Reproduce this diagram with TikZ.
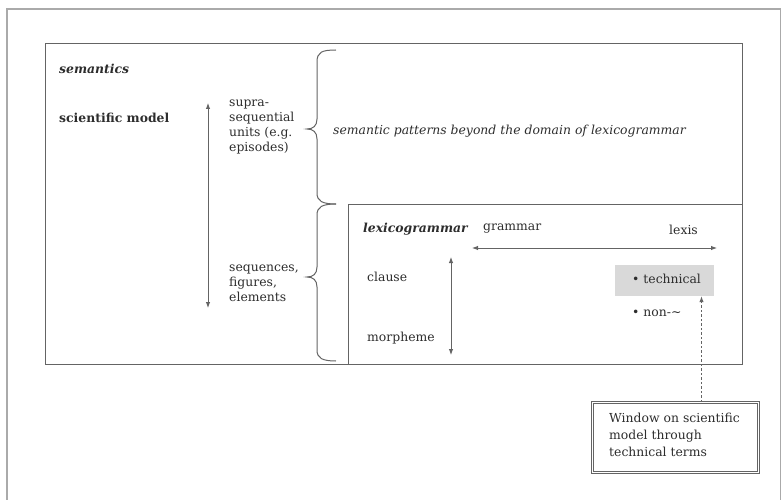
\documentclass[tikz,border=0pt]{standalone}
\usepackage{fontspec}
\setmainfont{DejaVu Serif}
\usetikzlibrary{arrows.meta}
\definecolor{ink}{RGB}{45,45,45}
\definecolor{rule}{RGB}{100,100,100}
\definecolor{frame}{RGB}{170,170,170}
\definecolor{shade}{RGB}{217,217,217}
\newcommand{\bodysize}{\fontsize{12.4}{14.8}\selectfont}
\tikzset{
  txt/.style={anchor=west,inner sep=0pt,text=ink,font=\bodysize},
  blk/.style={txt,align=left},
  box/.style={draw=rule,line width=1pt},
  tip/.tip={Latex[length=6pt,width=4.5pt]},
  arr/.style={draw=rule,line width=0.9pt,tip-tip},
  brc/.style={draw=rule,line width=1pt},
}
\begin{document}
\begin{tikzpicture}[x=1pt,y=-1pt]
\useasboundingbox (0,0) rectangle (782,500);
\begin{scope}
\clip (0,0) rectangle (782,500);
% surrounding frame
\draw[frame,line width=1.4pt] (7,9) rectangle (780.5,520);
\end{scope}

% semantics box and the lexicogrammar box inside it
\draw[box] (45,44) rectangle (742,364);
\draw[box] (742,204) -- (348,204) -- (348,364);

% braces
\draw[brc] (336,50) .. controls (322,50) and (317,52) .. (317,62) -- (317,119)
  .. controls (317,126) and (313,129) .. (307,129)
  .. controls (313,129) and (317,132) .. (317,139) -- (317,193)
  .. controls (317,201) and (322,204) .. (336,204);
\draw[brc] (336,204) .. controls (322,204) and (317,207) .. (317,215) -- (317,267)
  .. controls (317,274) and (313,277) .. (307,277)
  .. controls (313,277) and (317,280) .. (317,287) -- (317,350)
  .. controls (317,358) and (322,361) .. (336,361);

% semantics labels
\node[txt,font=\bodysize\bfseries\itshape] (sem) at (59,69) {semantics};
\node[txt,font=\bodysize\bfseries] (sci) at (59,118) {scientific model};
\coordinate (semtop) at (208,103);
\coordinate (sembot) at (208,308);
\draw[arr] (semtop) -- (sembot);
\node[blk] (supra) at (229,127) {supra-\\sequential\\units (e.g.\\episodes)};
\node[blk] (seq) at (229,283) {sequences,\\figures,\\elements};
\node[txt,font=\bodysize\itshape] (pat) at (333,131) {semantic patterns beyond the domain of lexicogrammar};

% lexicogrammar labels
\node[txt,font=\bodysize\bfseries\itshape] (lex) at (363,229) {lexicogrammar};
\node[txt] (gram) at (483,229) {grammar};
\node[txt] (lexis) at (669,230) {lexis};
\coordinate (hl) at (472,248);
\coordinate (hr) at (717,248);
\draw[arr] (hl) -- (hr);
\node[txt] (clause) at (367,277) {clause};
\node[txt] (morph) at (367,338) {morpheme};
\coordinate (vt) at (451,257);
\coordinate (vb) at (451,355);
\draw[arr] (vt) -- (vb);

% technical / non-technical lexis
\node[fill=shade,minimum width=99pt,minimum height=31pt,inner sep=0pt] (tech) at (664.5,280.5) {};
\node[txt] (techtxt) at (632,279) {• technical};
\node[txt] (non) at (632,313) {• non-\textasciitilde};

% window box
\node[draw=rule,double=white,double distance=1.8pt,line width=0.8pt,
      minimum width=166pt,minimum height=70pt,inner sep=0pt] (win) at (675.5,437.5) {};
\node[blk,font=\fontsize{12.4}{17}\selectfont] (wintxt) at (609,435) {Window on scientific\\model through\\technical terms};
\coordinate (dash) at (701.5,0);
\draw[draw=rule,line width=0.9pt,dash pattern=on 2.5pt off 2pt,-tip]
  (win.north -| dash) -- (tech.south -| dash);
\end{tikzpicture}
\end{document}
